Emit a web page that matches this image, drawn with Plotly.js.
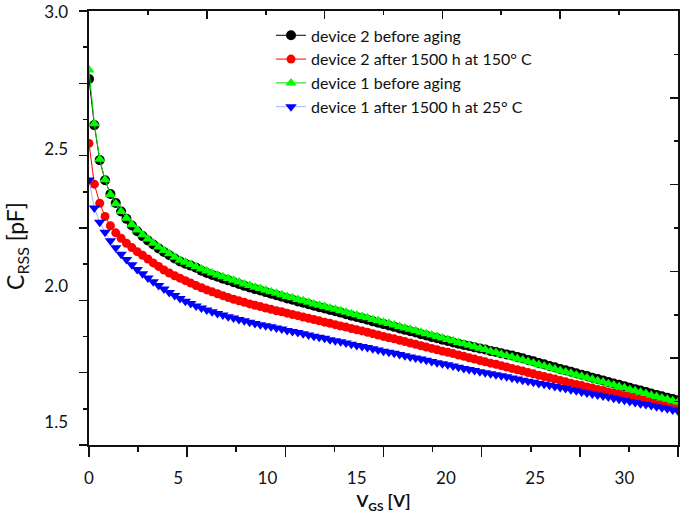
<!DOCTYPE html>
<html>
<head>
<meta charset="utf-8">
<script src="https://cdn.plot.ly/plotly-3.0.1.min.js"></script>
<style>
  html, body { margin: 0; padding: 0; background: #fff; }
  #chart { width: 685px; height: 514px; }
</style>
</head>
<body>
<div id="chart"></div>
<script>
'use strict';

// gate voltage sweep, V
const vgs = [
  0.0, 0.3, 0.6, 0.9, 1.2, 1.5, 1.8, 2.1, 2.4, 2.7, 3.0, 3.3, 3.6, 3.9, 4.2, 4.5, 4.8, 5.1, 5.4, 5.7,
  6.0, 6.3, 6.6, 6.9, 7.2, 7.5, 7.8, 8.1, 8.4, 8.7, 9.0, 9.3, 9.6, 9.9, 10.2, 10.5, 10.8, 11.1, 11.4, 11.7,
  12.0, 12.3, 12.6, 12.9, 13.2, 13.5, 13.8, 14.1, 14.4, 14.7, 15.0, 15.3, 15.6, 15.9, 16.2, 16.5, 16.8, 17.1, 17.4, 17.7,
  18.0, 18.3, 18.6, 18.9, 19.2, 19.5, 19.8, 20.1, 20.4, 20.7, 21.0, 21.3, 21.6, 21.9, 22.2, 22.5, 22.8, 23.1, 23.4, 23.7,
  24.0, 24.3, 24.6, 24.9, 25.2, 25.5, 25.8, 26.1, 26.4, 26.7, 27.0, 27.3, 27.6, 27.9, 28.2, 28.5, 28.8, 29.1, 29.4, 29.7,
  30.0, 30.3, 30.6, 30.9, 31.2, 31.5, 31.8, 32.1, 32.4, 32.7, 33.0,
];

// C_RSS in pF, one value per vgs point
const dev2Before = [
  2.757, 2.588, 2.460, 2.386, 2.336, 2.303, 2.272, 2.245, 2.221, 2.200, 2.182, 2.166, 2.151, 2.137, 2.124, 2.112, 2.100, 2.089, 2.081, 2.074,
  2.066, 2.055, 2.047, 2.040, 2.033, 2.026, 2.020, 2.013, 2.007, 2.000, 1.994, 1.988, 1.983, 1.977, 1.971, 1.966, 1.960, 1.954, 1.949, 1.943,
  1.938, 1.933, 1.927, 1.922, 1.917, 1.912, 1.907, 1.902, 1.896, 1.891, 1.886, 1.881, 1.876, 1.870, 1.865, 1.860, 1.855, 1.850, 1.844, 1.839,
  1.834, 1.829, 1.823, 1.818, 1.813, 1.808, 1.803, 1.798, 1.793, 1.788, 1.784, 1.780, 1.775, 1.771, 1.767, 1.762, 1.758, 1.753, 1.749, 1.745,
  1.740, 1.735, 1.729, 1.724, 1.718, 1.713, 1.707, 1.702, 1.696, 1.691, 1.686, 1.680, 1.675, 1.670, 1.664, 1.659, 1.654, 1.648, 1.643, 1.638,
  1.633, 1.627, 1.622, 1.617, 1.612, 1.606, 1.601, 1.596, 1.591, 1.586, 1.581,
];

const dev2After150 = [
  2.521, 2.372, 2.302, 2.254, 2.220, 2.194, 2.174, 2.156, 2.140, 2.125, 2.112, 2.098, 2.084, 2.071, 2.058, 2.047, 2.037, 2.028, 2.019, 2.010,
  2.001, 1.993, 1.985, 1.978, 1.971, 1.964, 1.957, 1.951, 1.945, 1.940, 1.934, 1.929, 1.924, 1.919, 1.914, 1.909, 1.905, 1.900, 1.895, 1.891,
  1.886, 1.881, 1.877, 1.872, 1.867, 1.863, 1.858, 1.853, 1.849, 1.844, 1.839, 1.835, 1.830, 1.825, 1.820, 1.815, 1.810, 1.806, 1.801, 1.796,
  1.791, 1.786, 1.781, 1.776, 1.771, 1.766, 1.761, 1.757, 1.752, 1.747, 1.742, 1.737, 1.732, 1.727, 1.722, 1.717, 1.713, 1.708, 1.703, 1.698,
  1.693, 1.688, 1.683, 1.678, 1.673, 1.668, 1.664, 1.659, 1.654, 1.649, 1.644, 1.639, 1.635, 1.630, 1.626, 1.621, 1.617, 1.612, 1.608, 1.604,
  1.599, 1.595, 1.591, 1.587, 1.583, 1.580, 1.576, 1.573, 1.570, 1.567, 1.564,
];

const dev1Before = [
  2.790, 2.593, 2.463, 2.388, 2.334, 2.300, 2.272, 2.247, 2.224, 2.204, 2.187, 2.171, 2.156, 2.142, 2.129, 2.117, 2.105, 2.094, 2.086, 2.078,
  2.070, 2.062, 2.054, 2.047, 2.040, 2.033, 2.027, 2.020, 2.014, 2.007, 2.001, 1.995, 1.990, 1.984, 1.978, 1.973, 1.967, 1.961, 1.956, 1.950,
  1.945, 1.940, 1.934, 1.929, 1.924, 1.919, 1.914, 1.909, 1.903, 1.898, 1.893, 1.888, 1.883, 1.877, 1.872, 1.867, 1.862, 1.857, 1.851, 1.846,
  1.841, 1.836, 1.830, 1.825, 1.820, 1.815, 1.809, 1.804, 1.799, 1.793, 1.788, 1.783, 1.777, 1.772, 1.767, 1.761, 1.756, 1.750, 1.745, 1.740,
  1.734, 1.729, 1.723, 1.718, 1.712, 1.707, 1.701, 1.696, 1.690, 1.685, 1.680, 1.674, 1.669, 1.664, 1.658, 1.653, 1.648, 1.642, 1.637, 1.632,
  1.627, 1.621, 1.616, 1.611, 1.606, 1.600, 1.595, 1.590, 1.585, 1.580, 1.575,
];

const dev1After25 = [
  2.387, 2.285, 2.233, 2.196, 2.165, 2.139, 2.116, 2.096, 2.077, 2.060, 2.044, 2.029, 2.015, 2.001, 1.988, 1.976, 1.965, 1.954, 1.944, 1.935,
  1.926, 1.919, 1.912, 1.905, 1.899, 1.893, 1.887, 1.882, 1.877, 1.872, 1.867, 1.862, 1.858, 1.854, 1.850, 1.846, 1.842, 1.837, 1.833, 1.829,
  1.825, 1.820, 1.816, 1.812, 1.808, 1.803, 1.799, 1.795, 1.791, 1.786, 1.782, 1.778, 1.774, 1.770, 1.765, 1.761, 1.757, 1.753, 1.749, 1.744,
  1.740, 1.736, 1.732, 1.728, 1.723, 1.719, 1.715, 1.711, 1.707, 1.702, 1.698, 1.694, 1.690, 1.686, 1.682, 1.678, 1.675, 1.671, 1.667, 1.663,
  1.659, 1.655, 1.651, 1.647, 1.643, 1.640, 1.636, 1.632, 1.628, 1.624, 1.620, 1.616, 1.612, 1.608, 1.604, 1.601, 1.597, 1.593, 1.589, 1.585,
  1.581, 1.577, 1.573, 1.569, 1.566, 1.562, 1.558, 1.554, 1.550, 1.546, 1.542,
];

const seriesNames = [
  'device 2 before aging',
  'device 2 after 1500 h at 150° C',
  'device 1 before aging',
  'device 1 after 1500 h at 25° C',
];

const xTickVals = [0, 5, 10, 15, 20, 25, 30];
const yTickVals = [1.5, 2.0, 2.5, 3.0];

const FONT = 'Lato, "Open Sans", sans-serif';
const INK = '#111';

function series(y, name, color, lineColor, symbol, size) {
  return {
    x: vgs,
    y: y,
    name: name,
    type: 'scatter',
    mode: 'lines+markers',
    line: {color: lineColor, width: 1},
    marker: {color: color, symbol: symbol, size: size, line: {width: 0}},
    hoverinfo: 'x+y+name',
  };
}

// frame axes: they only carry the tick marks of the original figure
function frameAxis(side, overlaying, anchor, range, inside, majorLen, minorLen) {
  return {
    overlaying: overlaying,
    anchor: anchor,
    side: side,
    range: range,
    fixedrange: true,
    showgrid: false,
    zeroline: false,
    showticklabels: false,
    showline: true,
    linecolor: INK,
    linewidth: 1.6,
    ticks: inside ? 'inside' : 'outside',
    tick0: 0,
    dtick: 2,
    ticklen: majorLen,
    tickwidth: 1.6,
    tickcolor: INK,
    minor: {ticks: inside ? 'inside' : 'outside', dtick: 1, ticklen: minorLen, tickwidth: 1.6, tickcolor: INK},
  };
}

const data = [
  series(dev2Before, seriesNames[0], '#000000', '#000000', 'circle', 10),
  series(dev2After150, seriesNames[1], '#ff0000', '#ff0000', 'circle', 9),
  series(dev1Before, seriesNames[2], '#00ff00', '#00dd00', 'triangle-up', 10),
  series(dev1After25, seriesNames[3], '#0000ff', '#a8b0ff', 'triangle-down', 10),
  // anchors for the tick-only frame axes
  {x: [null], y: [null], xaxis: 'x2', yaxis: 'y2', showlegend: false, hoverinfo: 'skip', mode: 'markers'},
  {x: [null], y: [null], xaxis: 'x3', yaxis: 'y3', showlegend: false, hoverinfo: 'skip', mode: 'markers'},
];

const layout = {
  width: 685,
  height: 514,
  margin: {l: 89, r: 7, t: 11, b: 69, pad: 0},
  paper_bgcolor: '#ffffff',
  plot_bgcolor: '#ffffff',
  font: {family: FONT, color: INK, size: 17},
  showlegend: true,
  legend: {
    x: 0.309,
    y: 0.983,
    xanchor: 'left',
    yanchor: 'top',
    bgcolor: 'rgba(0,0,0,0)',
    itemsizing: 'trace',
    font: {family: FONT, size: 16, color: INK},
  },
  xaxis: {
    range: [0, 33],
    fixedrange: true,
    showgrid: false,
    zeroline: false,
    showline: false,
    ticks: '',
    tickvals: xTickVals,
    ticklabelstandoff: 21,
    tickfont: {family: FONT, size: 17, color: INK},
    title: {text: '<b>V<sub>GS</sub> [V]</b>', font: {family: FONT, size: 17, color: INK}, standoff: 8},
  },
  yaxis: {
    range: [1.4177, 3.0055],
    fixedrange: true,
    showgrid: false,
    zeroline: false,
    showline: false,
    ticks: '',
    tickvals: yTickVals,
    tickformat: '.1f',
    ticklabelstandoff: 20,
    tickfont: {family: FONT, size: 17, color: INK},
  },
  xaxis2: frameAxis('bottom', 'x', 'y2', [0, 12], false, 10, 5),
  yaxis2: frameAxis('left', 'y', 'x2', [0, 12], false, 8, 4),
  xaxis3: frameAxis('top', 'x', 'y3', [0, 10], true, 8, 4),
  yaxis3: frameAxis('right', 'y', 'x3', [0, 10], true, 8, 4),
  annotations: [{
    text: 'C<sub>RSS</sub> [pF]',
    xref: 'paper',
    yref: 'paper',
    x: -0.124,
    y: 0.4585,
    xanchor: 'center',
    yanchor: 'middle',
    textangle: -90,
    showarrow: false,
    font: {family: FONT, size: 23, color: INK},
  }],
};

Plotly.newPlot('chart', data, layout, {displayModeBar: false, staticPlot: true});
</script>
</body>
</html>
